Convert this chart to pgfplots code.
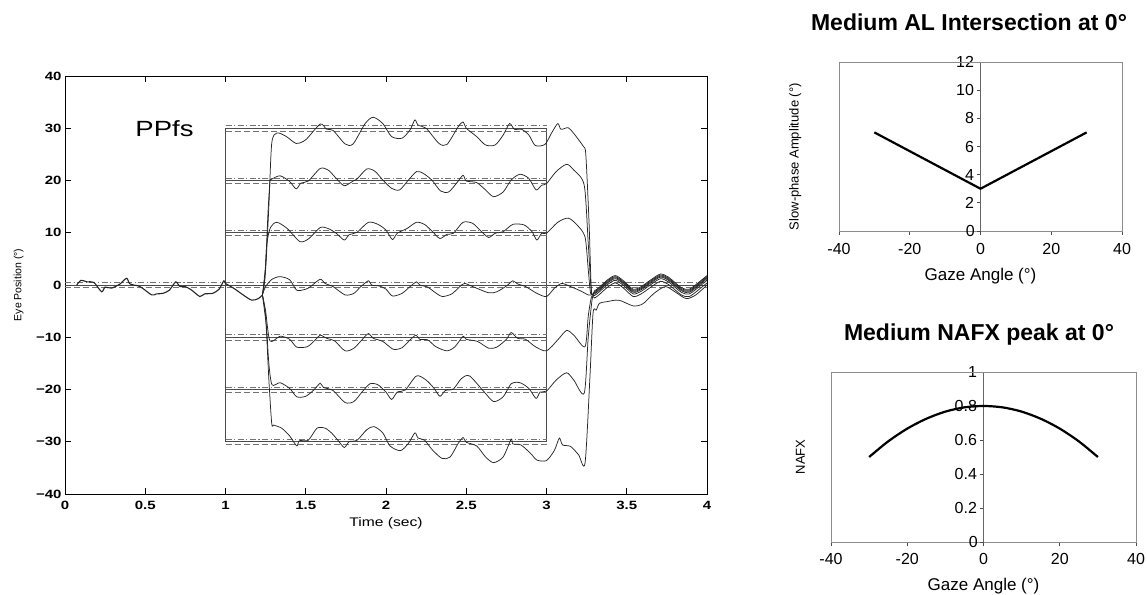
\documentclass[border=0pt]{standalone}
\usepackage{pgfplots}
\pgfplotsset{compat=1.18}
\usepackage{fontspec}
\setmainfont{Liberation Sans}
\newfontfamily\widesans[FakeStretch=1.25]{Liberation Sans}

\pgfplotsset{
  eye/.style={line width=0.75pt, black!85, smooth, tension=0.45},
  tgt/.style={line width=0.6pt, black!70},
  bandhi/.style={line width=0.6pt, black!55, dash pattern=on 6pt off 2.5pt on 1.2pt off 2.5pt},
  bandlo/.style={line width=0.6pt, black!55, dash pattern=on 6pt off 3pt},
}

\begin{document}
\begin{tikzpicture}
\path[use as bounding box] (0pt,0pt) rectangle (1147pt,594pt);

% ---------------- eye position traces ----------------
\begin{axis}[
  at={(65pt,100pt)}, anchor=south west,
  scale only axis, width=642pt, height=418pt,
  xmin=0, xmax=4, ymin=-40, ymax=40,
  xtick={0,0.5,1,1.5,2,2.5,3,3.5,4},
  xticklabels={0,0.5,1,1.5,2,2.5,3,3.5,4},
  ytick={-40,-30,-20,-10,0,10,20,30,40},
  yticklabels={−40,−30,−20,−10,0,10,20,30,40},
  tick align=inside, major tick length=6pt,
  axis line style={line width=0.8pt},
  every tick/.style={black, line width=0.8pt},
  tick label style={font=\widesans\bfseries\fontsize{12}{13}\selectfont},
  x tick label style={yshift=-4pt},
  xlabel={Time (sec)},
  xlabel style={font=\widesans\fontsize{12.5}{13}\selectfont, at={(axis description cs:0.5,-0.069)}, anchor=center},
  ylabel={Eye Position (°)},
  ylabel style={font=\fontsize{10.5}{11}\selectfont, at={(axis description cs:-0.072,0.5)}, anchor=center, rotate=0},
]
% target steps
\addplot[tgt] coordinates {(0,0) (4,0)};
\addplot[tgt] coordinates {(0,0) (1,0) (1,30) (3,30) (3,0) (4,0)};
\addplot[tgt] coordinates {(0,0) (1,0) (1,20) (3,20) (3,0) (4,0)};
\addplot[tgt] coordinates {(0,0) (1,0) (1,10) (3,10) (3,0) (4,0)};
\addplot[tgt] coordinates {(0,0) (1,0) (1,-10) (3,-10) (3,0) (4,0)};
\addplot[tgt] coordinates {(0,0) (1,0) (1,-20) (3,-20) (3,0) (4,0)};
\addplot[tgt] coordinates {(0,0) (1,0) (1,-30) (3,-30) (3,0) (4,0)};
% tolerance bands
\addplot[bandhi] coordinates {(0,0.5) (4,0.5)};
\addplot[bandlo] coordinates {(0,-0.5) (4,-0.5)};
\addplot[bandhi] coordinates {(1,30.5) (3,30.5)};
\addplot[bandlo] coordinates {(1,29.5) (3,29.5)};
\addplot[bandhi] coordinates {(1,20.5) (3,20.5)};
\addplot[bandlo] coordinates {(1,19.5) (3,19.5)};
\addplot[bandhi] coordinates {(1,10.5) (3,10.5)};
\addplot[bandlo] coordinates {(1,9.5) (3,9.5)};
\addplot[bandhi] coordinates {(1,-9.5) (3,-9.5)};
\addplot[bandlo] coordinates {(1,-10.5) (3,-10.5)};
\addplot[bandhi] coordinates {(1,-19.5) (3,-19.5)};
\addplot[bandlo] coordinates {(1,-20.5) (3,-20.5)};
\addplot[bandhi] coordinates {(1,-29.5) (3,-29.5)};
\addplot[bandlo] coordinates {(1,-30.5) (3,-30.5)};

% common fixation segment
\addplot[eye, line width=1.1pt] coordinates {
(0.073,0) (0.10,0.9) (0.137,0.6) (0.18,0.5) (0.228,-1.3) (0.25,-0.4) (0.29,-0.6)
(0.343,0.2) (0.384,1.3) (0.405,0.2) (0.467,-0.3) (0.54,-1.9) (0.57,-1.7) (0.61,-1.6)
(0.65,-1.0) (0.69,0.6) (0.716,-0.3) (0.75,-0.3) (0.79,-1.0) (0.84,-2.2) (0.87,-1.7)
(0.92,-1.6) (0.96,-0.8) (0.99,0.8) (1.0,0.3) (1.05,-0.6) (1.11,-1.9) (1.163,-2.9)
(1.205,-2.6) (1.23,-1.9)};

% +30
\addplot[eye] coordinates {
(1.23,-1.9) (1.25,3) (1.27,15) (1.288,27.1) (1.32,29.1) (1.38,28.4) (1.44,27.1)
(1.50,27.8) (1.59,30.8) (1.63,29.8) (1.67,29.6) (1.745,27.0) (1.795,27.0) (1.87,30.9)
(1.92,32.1) (1.98,30.9) (2.035,28.4) (2.10,28.1) (2.15,29.7) (2.18,31.6) (2.20,30.6)
(2.25,30.0) (2.33,27.1) (2.38,26.9) (2.45,30.3) (2.48,31.2) (2.50,30.0) (2.565,28.4)
(2.62,26.8) (2.68,26.8) (2.73,28.7) (2.77,30.9) (2.80,29.8) (2.845,29.8) (2.89,28.7)
(2.93,26.7) (2.99,26.9) (3.03,29.0) (3.07,30.9) (3.09,29.8) (3.135,30.1) (3.17,29.0)
(3.23,26.5) (3.245,24.9) (3.265,12) (3.28,-1.2)
(3.30,-1.1) (3.33,-0.4) (3.385,1.1) (3.43,1.8) (3.48,0.8) (3.54,-0.8) (3.59,-0.3)
(3.655,1.1) (3.71,2.1) (3.76,1.5) (3.84,-0.5) (3.89,-0.8) (3.96,0.8) (4.0,1.8)};

% +20
\addplot[eye] coordinates {
(1.23,-1.9) (1.25,4) (1.265,14) (1.277,19.8) (1.285,20.2) (1.34,20.9) (1.40,19.8)
(1.44,18.4) (1.47,19.5) (1.516,19.9) (1.59,22.3) (1.64,22.0) (1.69,20.4) (1.74,19.0)
(1.79,19.8) (1.82,20.3) (1.88,22.2) (1.93,21.8) (1.98,20.1) (2.035,18.5) (2.085,18.2)
(2.14,20.1) (2.19,21.7) (2.23,21.4) (2.285,20.1) (2.34,18.0) (2.39,17.8) (2.44,19.5)
(2.48,21.0) (2.50,19.9) (2.565,19.6) (2.62,18.2) (2.67,16.9) (2.73,17.8) (2.78,20.1)
(2.835,21.2) (2.89,20.4) (2.935,18.2) (2.97,19.1) (3.00,19.4) (3.06,21.7) (3.125,23.1)
(3.17,22.0) (3.235,19.1) (3.26,8) (3.28,-1.4)
(3.30,-1.3) (3.33,-0.6) (3.385,0.9) (3.43,1.6) (3.48,0.6) (3.54,-1.0) (3.59,-0.5)
(3.655,0.9) (3.71,1.9) (3.76,1.3) (3.84,-0.7) (3.89,-1.0) (3.96,0.6) (4.0,1.6)};

% +10
\addplot[eye] coordinates {
(1.23,-1.9) (1.245,1) (1.257,7.7) (1.28,11.0) (1.32,12.0) (1.385,10.8) (1.464,8.3)
(1.52,8.9) (1.59,11.0) (1.64,10.8) (1.69,9.9) (1.74,8.6) (1.77,9.6) (1.82,10.1)
(1.89,12.0) (1.95,11.6) (2.0,10.5) (2.04,8.7) (2.07,9.9) (2.13,10.8) (2.19,12.0)
(2.24,11.6) (2.29,10.2) (2.336,8.9) (2.38,9.7) (2.42,9.9) (2.48,12.0) (2.54,11.8)
(2.595,10.2) (2.64,9.1) (2.68,9.9) (2.73,10.2) (2.79,11.6) (2.86,11.5) (2.91,10.2)
(2.94,8.6) (2.97,9.9) (3.00,9.9) (3.07,12.0) (3.135,12.8) (3.19,11.5) (3.24,9.2)
(3.26,3) (3.275,-1.6)
(3.30,-1.5) (3.33,-0.8) (3.385,0.7) (3.43,1.4) (3.48,0.4) (3.54,-1.2) (3.59,-0.7)
(3.655,0.7) (3.71,1.7) (3.76,1.1) (3.84,-0.9) (3.89,-1.2) (3.96,0.4) (4.0,1.4)};

% 0
\addplot[eye] coordinates {
(1.23,-1.9) (1.25,-0.3) (1.29,1.1) (1.34,1.6) (1.40,1.0) (1.444,-1.0) (1.50,-0.8)
(1.53,-0.3) (1.59,1.1) (1.62,0.3) (1.67,-0.3) (1.745,-1.9) (1.80,-1.6) (1.84,-0.4)
(1.89,0.8) (1.91,0.0) (1.96,-0.2) (2.0,-0.8) (2.04,-2.1) (2.10,-1.6) (2.15,-0.3)
(2.19,0.6) (2.21,0.0) (2.26,-0.4) (2.30,-1.3) (2.35,-2.2) (2.41,-1.7) (2.46,-0.3)
(2.49,0.3) (2.54,-0.3) (2.64,-1.5) (2.69,-1.3) (2.75,-0.2) (2.79,0.8) (2.82,0.2)
(2.87,-0.3) (2.94,-1.6) (3.00,-2.2) (3.05,-0.6) (3.095,0.3) (3.15,-0.3) (3.21,-1.1)
(3.26,-1.9) (3.28,-1.9)
(3.30,-1.7) (3.33,-1.0) (3.385,0.5) (3.43,1.2) (3.48,0.2) (3.54,-1.4) (3.59,-0.9)
(3.655,0.5) (3.71,1.5) (3.76,0.9) (3.84,-1.1) (3.89,-1.4) (3.96,0.2) (4.0,1.2)};

% -10
\addplot[eye] coordinates {
(1.23,-1.9) (1.25,-5) (1.277,-10.7) (1.34,-9.8) (1.40,-10.4) (1.444,-11.9) (1.51,-11.8)
(1.56,-10.5) (1.59,-9.6) (1.63,-10.2) (1.68,-10.7) (1.745,-12.6) (1.80,-12.1) (1.85,-10.5)
(1.89,-9.3) (1.92,-10.2) (1.98,-10.8) (2.045,-12.3) (2.10,-12.0) (2.15,-10.5) (2.187,-9.6)
(2.21,-10.4) (2.26,-10.5) (2.31,-11.8) (2.38,-12.6) (2.43,-11.8) (2.48,-9.8) (2.50,-10.4)
(2.57,-10.8) (2.64,-12.1) (2.69,-11.9) (2.75,-10.4) (2.78,-9.1) (2.82,-10.2) (2.87,-10.4)
(2.93,-11.8) (3.00,-12.6) (3.07,-10.5) (3.125,-8.7) (3.17,-9.6) (3.24,-11.8) (3.26,-6)
(3.28,-2.3)
(3.30,-2.0) (3.33,-1.3) (3.385,0.2) (3.43,0.9) (3.48,-0.1) (3.54,-1.7) (3.59,-1.2)
(3.655,0.2) (3.71,1.2) (3.76,0.6) (3.84,-1.4) (3.89,-1.7) (3.96,-0.1) (4.0,0.9)};

% -20
\addplot[eye] coordinates {
(1.23,-1.9) (1.255,-8) (1.27,-15) (1.29,-19.1) (1.34,-18.7) (1.40,-19.8) (1.444,-21.4)
(1.50,-21.3) (1.55,-20.1) (1.59,-18.8) (1.61,-19.6) (1.67,-20.2) (1.745,-22.5) (1.80,-22.3)
(1.85,-20.5) (1.90,-18.9) (1.95,-19.1) (2.0,-20.5) (2.035,-21.9) (2.07,-20.5) (2.12,-20.1)
(2.19,-17.4) (2.25,-18.2) (2.30,-19.8) (2.336,-21.3) (2.37,-20.2) (2.42,-19.9) (2.47,-17.9)
(2.52,-17.4) (2.61,-20.4) (2.67,-22.3) (2.73,-21.4) (2.78,-18.9) (2.835,-18.7) (2.89,-19.8)
(2.935,-21.7) (2.96,-20.5) (3.0,-20.3) (3.06,-18.2) (3.125,-16.8) (3.17,-18.2) (3.235,-20.7)
(3.26,-10) (3.285,-2.6)
(3.30,-2.5) (3.33,-1.8) (3.385,-0.3) (3.43,0.4) (3.48,-0.6) (3.54,-2.2) (3.59,-1.7)
(3.655,-0.3) (3.71,0.7) (3.76,0.1) (3.84,-1.9) (3.89,-2.2) (3.96,-0.6) (4.0,0.4)};

% -30
\addplot[eye] coordinates {
(1.23,-1.9) (1.25,-6) (1.27,-18) (1.288,-26.5) (1.30,-26.8) (1.35,-27.4) (1.40,-28.9)
(1.444,-30.8) (1.46,-29.8) (1.516,-29.7) (1.57,-27.4) (1.62,-27.4) (1.66,-28.3) (1.70,-29.7)
(1.74,-31.1) (1.77,-30.0) (1.82,-29.7) (1.88,-27.7) (1.925,-27.1) (1.98,-28.3) (2.025,-30.8)
(2.09,-31.7) (2.14,-30.3) (2.18,-28.3) (2.20,-29.3) (2.24,-29.7) (2.29,-31.6) (2.35,-33.2)
(2.40,-32.9) (2.45,-30.3) (2.48,-29.2) (2.50,-30.1) (2.565,-30.8) (2.62,-32.9) (2.67,-34.0)
(2.73,-32.9) (2.78,-29.5) (2.79,-30.4) (2.84,-30.6) (2.90,-32.2) (2.94,-33.5) (3.00,-33.6)
(3.05,-31.6) (3.08,-29.3) (3.10,-30.6) (3.15,-30.9) (3.20,-32.5) (3.24,-34.1) (3.27,-18)
(3.29,-5.4) (3.31,-4.8) (3.33,-3.5) (3.375,-3.2) (3.45,-2.9) (3.54,-4.0) (3.60,-3.6)
(3.67,-1.6) (3.74,-0.3) (3.80,-1.3) (3.87,-2.6) (3.93,-1.9) (4.0,0)};

\node[font=\widesans\fontsize{22}{24}\selectfont] at (axis cs:0.62,30) {PPfs};
\end{axis}

% ---------------- slow-phase amplitude ----------------
\begin{axis}[
  at={(839pt,363pt)}, anchor=south west,
  scale only axis, width=283pt, height=169pt,
  xmin=-40, xmax=40, ymin=0, ymax=12,
  axis x line=bottom, axis y line=center,
  x axis line style={-, black, line width=0.8pt},
  y axis line style={-, black!60, line width=0.7pt},
  xtick={-40,-20,0,20,40}, xticklabels={-40,-20,0,20,40},
  ytick={0,2,4,6,8,10,12}, yticklabels={0,2,4,6,8,10,12},
  tick align=outside, major tick length=4pt,
  every tick/.style={black!70, line width=0.7pt},
  tick label style={font=\fontsize{16}{17}\selectfont},
  x tick label style={yshift=-5pt},
  y tick label style={xshift=1pt},
  xlabel={Gaze Angle (°)},
  xlabel style={font=\fontsize{17}{18}\selectfont, at={(axis description cs:0.5,-0.265)}, anchor=center},
  ylabel={Slow-phase Amplitude (°)},
  every axis y label/.style={font=\fontsize{13}{14}\selectfont, at={(axis description cs:-0.155,0.44)}, anchor=center, rotate=90},
  clip=false,
]
\draw[black!45, line width=0.7pt] (rel axis cs:0,0) rectangle (rel axis cs:1,1);
\draw[black!70, line width=0.7pt] (axis cs:0,0) -- ++(-4pt,0pt);
\node[anchor=east, font=\fontsize{16}{17}\selectfont, inner sep=0pt] at (axis cs:0,0) [xshift=-5.5pt] {0};
\addplot[black, line width=2.2pt] coordinates {(-30,7) (0,3) (30,7)};
\end{axis}

% ---------------- NAFX ----------------
\begin{axis}[
  at={(831pt,52pt)}, anchor=south west,
  scale only axis, width=305pt, height=170pt,
  xmin=-40, xmax=40, ymin=0, ymax=1,
  axis x line=bottom, axis y line=center,
  x axis line style={-, black, line width=0.8pt},
  y axis line style={-, black!60, line width=0.7pt},
  xtick={-40,-20,0,20,40}, xticklabels={-40,-20,0,20,40},
  ytick={0,0.2,0.4,0.6,0.8,1}, yticklabels={0,0.2,0.4,0.6,0.8,1},
  tick align=outside, major tick length=4pt,
  every tick/.style={black!70, line width=0.7pt},
  tick label style={font=\fontsize{16}{17}\selectfont},
  x tick label style={yshift=-4pt},
  y tick label style={xshift=1pt},
  xlabel={Gaze Angle (°)},
  xlabel style={font=\fontsize{17}{18}\selectfont, at={(axis description cs:0.5,-0.262)}, anchor=center},
  ylabel={NAFX},
  every axis y label/.style={font=\fontsize{13}{14}\selectfont, at={(axis description cs:-0.10,0.5)}, anchor=center, rotate=90},
  clip=false,
]
\draw[black!45, line width=0.7pt] (rel axis cs:0,0) rectangle (rel axis cs:1,1);
\draw[black!70, line width=0.7pt] (axis cs:0,0) -- ++(-4pt,0pt);
\node[anchor=east, font=\fontsize{16}{17}\selectfont, inner sep=0pt] at (axis cs:0,0) [xshift=-5.5pt] {0};
\addplot[black, line width=2.2pt, smooth] coordinates {
(-30,0.50) (-25,0.592) (-20,0.667) (-15,0.725) (-10,0.767) (-5,0.792) (0,0.80)
(5,0.792) (10,0.767) (15,0.725) (20,0.667) (25,0.592) (30,0.50)};
\end{axis}

\node[font=\bfseries\fontsize{23}{26}\selectfont] at (969pt,572pt) {Medium AL Intersection at 0°};
\node[font=\bfseries\fontsize{23}{26}\selectfont] at (979pt,259pt) {Medium NAFX peak at 0°};
\end{tikzpicture}
\end{document}
